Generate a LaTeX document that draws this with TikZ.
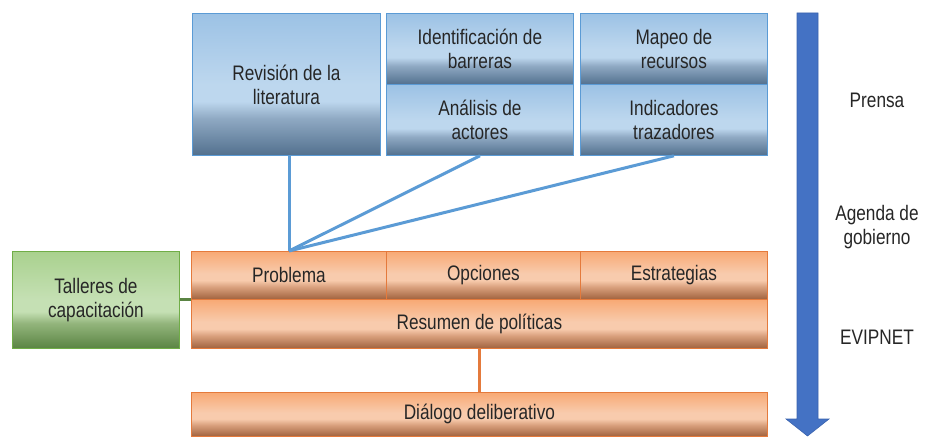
\documentclass[tikz,border=0pt]{standalone}
\usepackage{fontspec}
\setmainfont{Liberation Sans}[FakeStretch=0.82]
\definecolor{txt}{HTML}{262626}
\definecolor{bT}{HTML}{9CC2E5}
\definecolor{bL}{HTML}{BDD7EE}
\definecolor{bM}{HTML}{8FA9C3}
\definecolor{bB}{HTML}{52708E}
\definecolor{bBorder}{HTML}{5B9BD5}
\definecolor{oT}{HTML}{F8A974}
\definecolor{oL}{HTML}{F8CBAD}
\definecolor{oM}{HTML}{D9A07D}
\definecolor{oB}{HTML}{A0623E}
\definecolor{oBorder}{HTML}{E47A3C}
\definecolor{gT}{HTML}{A9D18E}
\definecolor{gL}{HTML}{C5E0B4}
\definecolor{gM}{HTML}{93B57C}
\definecolor{gB}{HTML}{5A8443}
\definecolor{gBorder}{HTML}{70AD47}
\definecolor{arrowC}{HTML}{4472C4}
\definecolor{arrowE}{HTML}{3A63AE}
\pgfdeclareverticalshading{blueshade}{100bp}{color(0bp)=(bB); color(25bp)=(bB); color(38bp)=(bM); color(44bp)=(bL); color(50bp)=(bL); color(75bp)=(bT); color(100bp)=(bT)}
\pgfdeclareverticalshading{orangeshade}{100bp}{color(0bp)=(oB); color(25bp)=(oB); color(38bp)=(oM); color(45bp)=(oL); color(52bp)=(oL); color(75bp)=(oT); color(100bp)=(oT)}
\pgfdeclareverticalshading{greenshade}{100bp}{color(0bp)=(gB); color(25bp)=(gB); color(38bp)=(gM); color(44bp)=(gL); color(50bp)=(gL); color(75bp)=(gT); color(100bp)=(gT)}
\tikzset{
  box/.style={anchor=north west, inner sep=0pt, align=center, text=txt,
    font=\fontsize{21}{24}\selectfont, line width=0.8pt},
  bluebox/.style={box, shade, shading=blueshade, draw=bBorder},
  orangebox/.style={box, shade, shading=orangeshade, draw=oBorder},
  greenbox/.style={box, shade, shading=greenshade, draw=gBorder},
  lbl/.style={text=txt, align=center, font=\fontsize{21}{24}\selectfont},
  conn/.style={line width=3pt}
}
\begin{document}
\begin{tikzpicture}[x=1pt,y=-1pt]
\useasboundingbox (0,0) rectangle (933,436);
% blue boxes
\node[bluebox, minimum width=188pt, minimum height=142pt] (rev) at (192,13) {Revisión de la\\literatura};
\node[bluebox, minimum width=187pt, minimum height=71pt] (ident) at (386,13) {Identificación de\\barreras};
\node[bluebox, minimum width=187pt, minimum height=71pt] (anal) at (386,84) {Análisis de\\actores};
\node[bluebox, minimum width=187pt, minimum height=71pt] (mapeo) at (580,13) {Mapeo de\\recursos};
\node[bluebox, minimum width=187pt, minimum height=71pt] (indic) at (580,84) {Indicadores\\trazadores};
% orange boxes
\node[orangebox, minimum width=195pt, minimum height=48pt] (prob) at (191,251) {Problema};
\node[orangebox, minimum width=194pt, minimum height=48pt] (opc) at (386,251) {Opciones};
\node[orangebox, minimum width=187pt, minimum height=48pt] (estr) at (580,251) {Estrategias};
\node[orangebox, minimum width=576pt, minimum height=49pt] (res) at (191,299) {Resumen de políticas};
\node[orangebox, minimum width=576pt, minimum height=44pt] (dial) at (191,392) {Diálogo deliberativo};
% green box
\node[greenbox, minimum width=167pt, minimum height=97pt] (tall) at (12,251) {Talleres de\\capacitación};
% connectors
\coordinate (m) at (289,251);
\draw[conn, draw=bBorder] (m |- rev.south) -- (m);
\draw[conn, draw=bBorder] (anal.south) -- (m);
\draw[conn, draw=bBorder] (indic.south) -- (m);
\draw[conn, draw=gB] (tall.east |- prob.south) -- (prob.south west);
\draw[conn, draw=oBorder] (res.south) -- (dial.north);
% big arrow
\draw[fill=arrowC, draw=arrowE, line width=0.6pt]
  (797,13) -- (818,13) -- (818,419) -- (829,419) -- (807.5,436) -- (786,419) -- (797,419) -- cycle;
% right labels
\node[lbl] (prensa) at (877,100) {Prensa};
\node[lbl] (agenda) at (877,227) {Agenda de\\gobierno};
\node[lbl] (evip) at (877,337) {EVIPNET};
\end{tikzpicture}
\end{document}
